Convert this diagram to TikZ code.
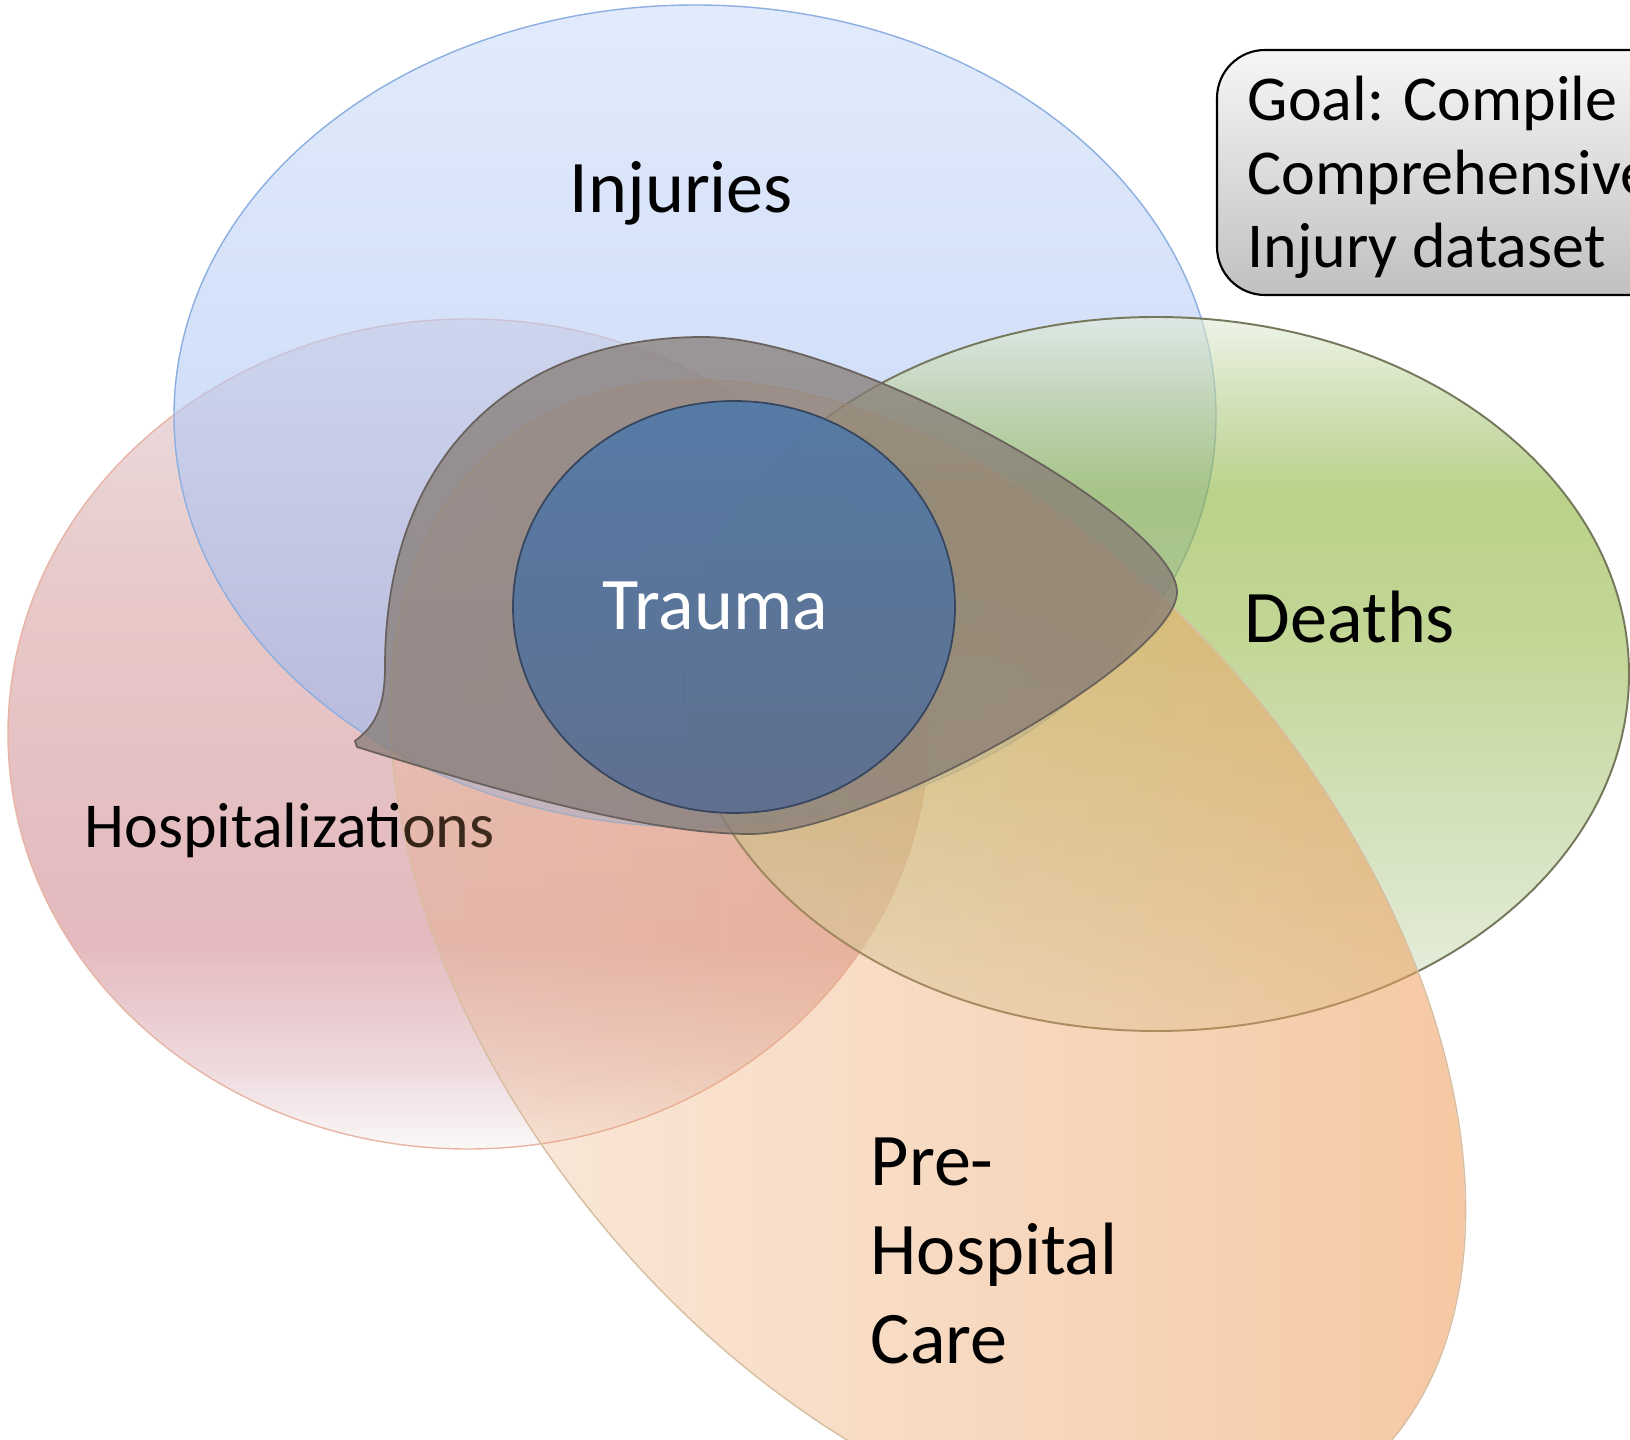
\documentclass[tikz,border=0pt]{standalone}
\usepackage{fontspec}
\setmainfont{Carlito}
\usetikzlibrary{fadings}

\definecolor{injtop}{RGB}{207,222,250}
\definecolor{injbot}{RGB}{150,180,238}
\definecolor{injline}{RGB}{140,175,225}
\definecolor{hospA}{RGB}{223,203,207}
\definecolor{hospB}{RGB}{217,163,163}
\definecolor{hospC}{RGB}{210,140,147}
\definecolor{hospD}{RGB}{227,193,200}
\definecolor{hospE}{RGB}{247,243,243}
\definecolor{hospline}{RGB}{232,180,165}
\definecolor{dthA}{RGB}{227,237,217}
\definecolor{dthB}{RGB}{180,205,138}
\definecolor{dthC}{RGB}{140,180,60}
\definecolor{dthD}{RGB}{155,188,80}
\definecolor{dthE}{RGB}{188,210,155}
\definecolor{dthF}{RGB}{222,233,210}
\definecolor{dthline}{RGB}{118,120,92}
\definecolor{preL}{RGB}{235,168,112}
\definecolor{preR}{RGB}{240,160,95}
\definecolor{preline}{RGB}{215,190,160}
\definecolor{bubfill}{RGB}{135,124,118}
\definecolor{bubline}{RGB}{105,97,92}
\definecolor{trtop}{RGB}{74,120,171}
\definecolor{trbot}{RGB}{87,107,146}
\definecolor{trline}{RGB}{55,70,95}
\definecolor{goaltop}{RGB}{246,246,246}
\definecolor{goalbot}{RGB}{192,192,192}

\pgfdeclareverticalshading{hospshade}{100bp}{color(0bp)=(hospE); color(25bp)=(hospE); color(30bp)=(hospD); color(37.5bp)=(hospC); color(57.5bp)=(hospB); color(75bp)=(hospA); color(100bp)=(hospA)}
\pgfdeclareverticalshading{deathshade}{100bp}{color(0bp)=(dthF); color(25bp)=(dthF); color(37.5bp)=(dthE); color(52.5bp)=(dthD); color(62.5bp)=(dthC); color(69bp)=(dthB); color(75bp)=(dthA); color(100bp)=(dthA)}
\tikzfading[name=prefade, left color=transparent!80, right color=transparent!40]

\begin{document}
\begin{tikzpicture}[x=0.01cm, y=-0.01cm,
    big/.style={font=\fontsize{21.1}{25.3}\selectfont, inner sep=0pt, anchor=base west, align=left},
    small/.style={font=\fontsize{18.2}{20.9}\selectfont, inner sep=0pt, anchor=base west, align=left},
    ring/.style={line width=0.4pt}]
    \useasboundingbox (0,0) rectangle (1630,1440);
    \fill[white] (0,0) rectangle (1630,1440);
    \clip (0,0) rectangle (1630,1440);

    \shade[shading=hospshade, fill opacity=0.6] (468,734) ellipse [x radius=460, y radius=415];
    \draw[ring, hospline] (468,734) ellipse [x radius=460, y radius=415];
    \node[small] (hosp) at (84,847) {Hospitalizations};

    \shade[top color=injtop, bottom color=injbot, fill opacity=0.6] (695,416) ellipse [x radius=521, y radius=411];
    \draw[ring, injline] (695,416) ellipse [x radius=521, y radius=411];
    \node[big] (inj) at (569,213) {Injuries};

    \shade[shading=deathshade, fill opacity=0.6] (1156,674) ellipse [x radius=473, y radius=357];
    \draw[ring, dthline, line width=0.55pt] (1156,674) ellipse [x radius=473, y radius=357];
    \node[big] (deaths) at (1244,643) {Deaths};

    \shade[left color=preL, right color=preR, path fading=prefade, rotate around={-50:(928,960)}] (928,960) ellipse [x radius=670, y radius=420];
    \draw[ring, preline, rotate around={-50:(928,960)}] (928,960) ellipse [x radius=670, y radius=420];
    \node[big] (pre) at (870,1363) {Pre-\\Hospital\\Care};

    \path[fill=bubfill, fill opacity=0.75, draw=bubline, line width=0.5pt] (357,747)
        .. controls (470,782) and (640,834) .. (750,834)
        .. controls (870,834) and (1177,660) .. (1177,592)
        .. controls (1177,520) and (850,337) .. (703,337)
        .. controls (520,337) and (385,450) .. (385,667)
        .. controls (385,712) and (372,728) .. (355,741) -- cycle;

    \shade[top color=trtop, bottom color=trbot, fill opacity=0.85, draw=trline, line width=0.5pt] (734,607) ellipse [x radius=221, y radius=206];
    \node[big, white] (trauma) at (602,630) {Trauma};

    \shade[top color=goaltop, bottom color=goalbot, draw=black, line width=0.6pt, rounded corners=0.48cm] (1217,50) rectangle (1700,295);
    \node[small] (goal) at (1247,268) {Goal: Compile\\Comprehensive\\Injury dataset};
\end{tikzpicture}
\end{document}
